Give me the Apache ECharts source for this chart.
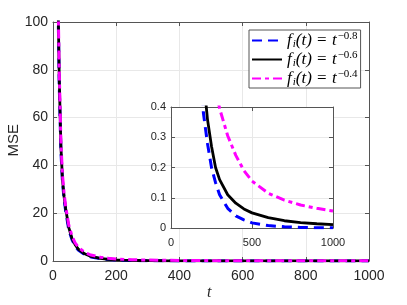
<!DOCTYPE html>
<html><head><meta charset="utf-8">
<script src="https://cdn.jsdelivr.net/npm/echarts@6/dist/echarts.min.js"></script>
<style>html,body{margin:0;padding:0;background:#fff}#c{width:407px;height:305px}</style>
</head><body><div id="c"></div>
<script>
const tValues = [15,17,20,25,30,35,40,50,60,70,80,100,120,150,175,200,225,250,275,300,350,400,450,500,600,700,800,900,1000];
const mse08 = [125,98,72,46,33,26,21,13,9,6.3,4.6,2.7,1.7,0.95,0.6,0.38,0.28,0.2,0.15,0.11,0.065,0.04,0.027,0.017,0.008,0.004,0.002,0.001,0.0006];
const mse06 = [130,100,75,48,34,27,22,14,9.5,6.8,5,3,1.9,1.1,0.72,0.5,0.36,0.27,0.2,0.16,0.11,0.082,0.063,0.05,0.034,0.024,0.018,0.014,0.011];
const mse04 = [132,102,78,50,36,28.5,23,15,10.5,7.6,5.8,3.6,2.5,1.6,1.15,0.85,0.68,0.55,0.46,0.395,0.305,0.24,0.19,0.155,0.115,0.092,0.076,0.065,0.056];
const seriesNames = ['a','b','c'];
const legendExp = ['−0.8','−0.6','−0.4'];

const pairs = arr => tValues.map((t,i)=>[t,arr[i]]);
const axisCol = '#262626';
const gridCol = '#e8e8e8';
function xax(gi, pos, show, min, max, interval, fs, split, margin, z){
  return {type:'value', gridIndex:gi, position:pos, min:min, max:max, interval:interval, z:z,
    axisLine:{show:true, onZero:false, lineStyle:{color:'#555', width:1}},
    axisTick:{show:true, inside:true, length:4, lineStyle:{color:'#555'}},
    axisLabel:{show:show, color:axisCol, fontSize:fs, fontFamily:'Liberation Sans, Arial', margin:margin, formatter:v=>String(v)},
    splitLine:{show:split, lineStyle:{color:gridCol, width:1}}};
}
function yax(gi, pos, show, min, max, interval, fs, split, fmt, z){
  return {type:'value', gridIndex:gi, position:pos, min:min, max:max, interval:interval, z:z,
    axisLine:{show:true, onZero:false, lineStyle:{color:'#555', width:1}},
    axisTick:{show:true, inside:true, length:4, lineStyle:{color:'#555'}},
    axisLabel:{show:show, color:axisCol, fontSize:fs, fontFamily:'Liberation Sans, Arial', margin:5, formatter:fmt},
    splitLine:{show:split, lineStyle:{color:gridCol, width:1}}};
}
const styles = [
  {color:'#0000ff', type:[10,6], width:3},
  {color:'#000000', type:'solid', width:2.8},
  {color:'#ff00ff', type:[9,4,4,4], width:3}
];
const datas = [mse08, mse06, mse04];
const series = [];
[0,1].forEach(g=>{
  datas.forEach((d,i)=>{
    series.push({name:seriesNames[i], type:'line', xAxisIndex:g*2, yAxisIndex:g*2, data:pairs(d),
      showSymbol:false, symbol:'none', smooth:false, clip:true,
      lineStyle:styles[i], itemStyle:{color:styles[i].color}, z:(g===0?2:10)+i, silent:true});
  });
});
const rich = {
  f:{fontFamily:'Liberation Serif', fontStyle:'italic', fontSize:17, color:'#000'},
  s:{fontFamily:'Liberation Serif', fontStyle:'italic', fontSize:11, color:'#000', verticalAlign:'bottom', padding:[7,0,0,1]},
  n:{fontFamily:'Liberation Serif', fontStyle:'italic', fontSize:17, color:'#000'},
  r:{fontFamily:'Liberation Serif', fontSize:17, color:'#000', padding:[0,1,0,1]},
  p:{fontFamily:'Liberation Serif', fontSize:11, color:'#000', verticalAlign:'top', padding:[0,0,8,1]}
};
const chart = echarts.init(document.getElementById('c'), null, {renderer:'canvas'});
chart.setOption({
  animation:false,
  backgroundColor:'#fff',
  grid:[
    {left:53, top:22, width:316, height:239, show:false},
    {left:171, top:107, width:162, height:121, show:true, backgroundColor:'#fff', borderWidth:0, z:6}
  ],
  xAxis:[
    xax(0,'bottom',true,0,1000,200,14,true,8,1),
    xax(0,'top',false,0,1000,200,14,false,8,1),
    xax(1,'bottom',true,0,1000,500,11,true,9,7),
    xax(1,'top',false,0,1000,500,11,false,9,7)
  ],
  yAxis:[
    yax(0,'left',true,0,100,20,14,true,null,1),
    yax(0,'right',false,0,100,20,14,false,null,1),
    yax(1,'left',true,0,0.4,0.1,11,true, v=>v===0?'0':v.toFixed(1),7),
    yax(1,'right',false,0,0.4,0.1,11,false,null,7)
  ],
  legend:{
    data:seriesNames, orient:'vertical', left:249, top:30, z:20,
    backgroundColor:'#fff', borderColor:'#555', borderWidth:1, padding:[1,3,0,2],
    itemWidth:30, itemHeight:10, itemGap:0,
    itemStyle:{opacity:0},
    formatter: n => '{f|f}{s|i}{n|(t)}{r| = }{n|t}{p|'+legendExp[seriesNames.indexOf(n)]+'}',
    textStyle:{rich:rich}
  },
  graphic:[
    {type:'text', left:6, top:124, rotation:Math.PI/2, style:{text:'MSE', font:'15px Liberation Sans, Arial', fill:'#262626'}},
    {type:'text', left:207, top:285, style:{text:'t', font:'italic 16px Liberation Serif', fill:'#262626'}}
  ],
  series:series
});
</script></body></html>
